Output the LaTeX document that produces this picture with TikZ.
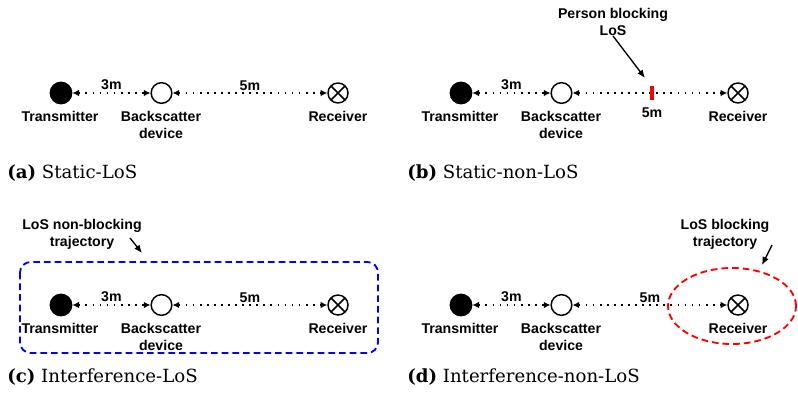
\documentclass[tikz,border=0pt]{standalone}
\usepackage{fontspec}
\newfontfamily\lblfont{Liberation Sans}
\newfontfamily\capfont{DejaVu Serif}
\usetikzlibrary{arrows.meta,positioning,shapes.geometric,calc}

\begin{document}
\begin{tikzpicture}[x=0.75pt,y=-0.75pt,>=Latex, every node/.style={font=\lblfont\bfseries\fontsize{10.6}{12.8}\selectfont}]
\tikzstyle{txnode}=[circle, draw, fill=black, line width=1.1pt, minimum size=16pt, inner sep=0pt]
\tikzstyle{bsnode}=[circle, draw, line width=1.1pt, minimum size=15.5pt, inner sep=0pt]
\tikzstyle{rxnode}=[circle, draw, line width=1.1pt, minimum size=15pt, inner sep=0pt, path picture={\draw[line width=1.1pt] (path picture bounding box.north west) -- (path picture bounding box.south east) (path picture bounding box.north east) -- (path picture bounding box.south west);}]
\tikzstyle{lbl}=[align=center, inner sep=0pt]
\tikzstyle{dist}=[inner sep=1.5pt]
\tikzstyle{link}=[{Latex[length=5pt,width=5pt]}-{Latex[length=5pt,width=5pt]}, line width=1.3pt, dash pattern=on 1.3pt off 4pt]
\tikzstyle{note}=[-{Latex[length=6pt,width=5pt]}, line width=1pt]
\tikzstyle{subcap}=[anchor=west, inner sep=0pt, font=\capfont\fontsize{13.6}{16}\selectfont]
\useasboundingbox (0,0) rectangle (798,399);
\foreach \p/\dx/\dy in {a/0/0, b/400/0, c/0/212, d/400/212} {
  \node[txnode] (tx\p) at (61+\dx,93+\dy) {};
  \node[bsnode] (bs\p) at (161.5+\dx,93+\dy) {};
  \node[rxnode] (rx\p) at (338+\dx,93+\dy) {};
  \node[lbl] (txl\p) at (60+\dx,116+\dy) {Transmitter};
  \node[lbl] (bsl\p) at (161+\dx,124.5+\dy) {Backscatter\\device};
  \node[lbl] (rxl\p) at (338+\dx,116+\dy) {Receiver};
  \draw[link] (tx\p) -- node[midway, above, dist] {3m} (bs\p);
  \draw[link] (bs\p) -- (rx\p);
}
\foreach \p in {a,c,d} \path (bs\p) -- (rx\p) node[midway, above, dist] {5m};
\node[rectangle, fill=red, minimum width=2.4pt, minimum height=10.5pt, inner sep=0pt] (blk) at (652,93) {};
\node[dist, below=4pt of blk] (blkd) {5m};
\node[lbl] (pbl) at (613,22) {Person blocking\\LoS};
\coordinate (pble) at (645,78);
\draw[note] (pbl.south) -- (pble);
\draw[blue, line width=1.4pt, dash pattern=on 5pt off 3pt, rounded corners=8pt] (20,262) rectangle (378,353);
\node[lbl] (nbl) at (82,234) {LoS non-blocking\\trajectory};
\coordinate (nbls) at (130,238);
\coordinate (nble) at (142,253);
\draw[note] (nbls) -- (nble);
\node[ellipse, draw=red, line width=1.4pt, dash pattern=on 5pt off 3pt, minimum width=96pt, minimum height=57pt, inner sep=0pt] (traj) at (732,306) {};
\node[lbl] (bl) at (725,234) {LoS blocking\\trajectory};
\coordinate (bls) at (772,245);
\coordinate (ble) at (762,265);
\draw[note] (bls) -- (ble);
\node[subcap] (capa) at (7,173) {\textbf{(a)} Static-LoS};
\node[subcap] (capb) at (407,173) {\textbf{(b)} Static-non-LoS};
\node[subcap] (capc) at (7,377) {\textbf{(c)} Interference-LoS};
\node[subcap] (capd) at (407,377) {\textbf{(d)} Interference-non-LoS};
\end{tikzpicture}
\end{document}
